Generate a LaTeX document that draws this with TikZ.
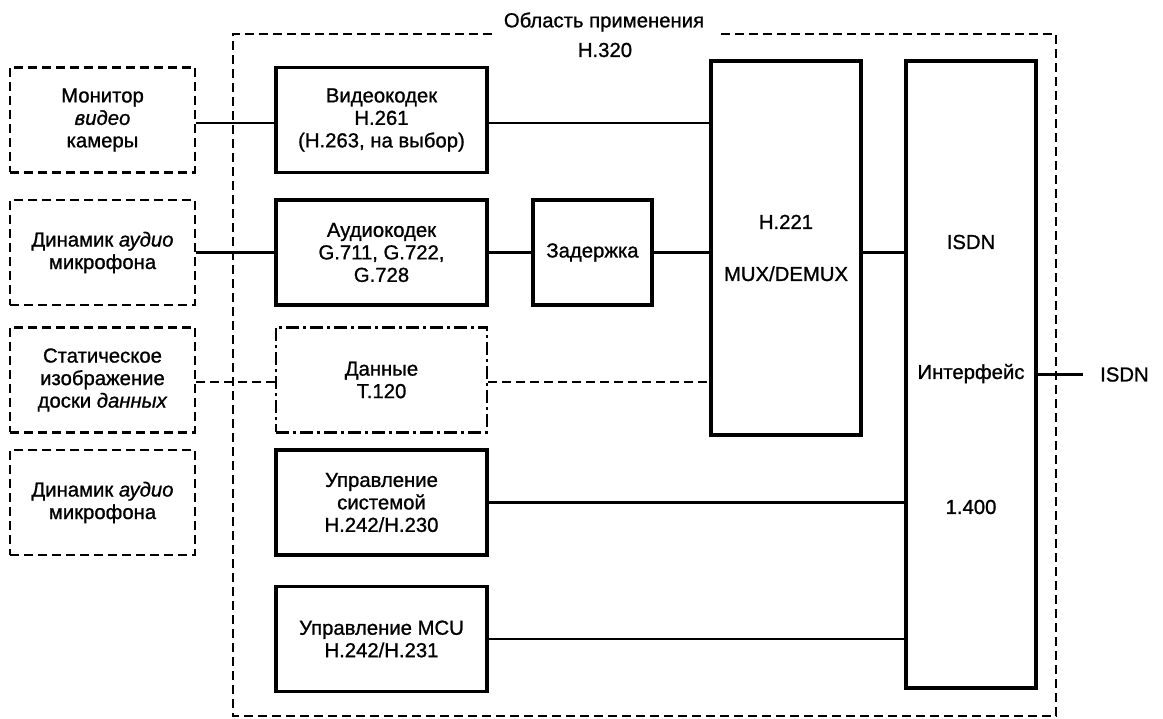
\documentclass[tikz,border=0pt]{standalone}
\usepackage{fontspec}
\setmainfont{Liberation Sans}[FakeBold=1]
\begin{document}
\begin{tikzpicture}[x=1pt,y=-1pt,
  every node/.style={font=\fontsize{20.3}{22.5}\selectfont, align=center, inner sep=0pt},
  blk/.style={draw, line width=3.2pt, minimum width=#1, minimum height=105pt},
  ext/.style={draw, line width=2.6pt, dash pattern=on 9pt off 5pt, minimum width=185pt, minimum height=105pt},
  dd/.style={draw, line width=2.6pt, dash pattern=on 13pt off 4pt on 3pt off 4pt, minimum width=211pt, minimum height=105pt},
  conn/.style={line width=2.8pt},
  dconn/.style={line width=2.8pt, dash pattern=on 9pt off 5pt},
  frame/.style={line width=2.6pt, dash pattern=on 9pt off 5pt}
]
\useasboundingbox (0,0) rectangle (1163,719);

% outer frame
\draw[frame] (492,34) -- (233,34) -- (233,716) -- (1056,716) -- (1056,34) -- (717,34);
\node (t1) at (604,22) {Область применения};
\node (t2) at (605,50) {H.320};

% external devices
\node[ext] (b1) at (102.5,120) {Монитор\\\textit{видео}\\камеры};
\node[ext] (b2) at (102.5,252.5) {Динамик \textit{аудио}\\микрофона};
\node[ext] (b3) at (102.5,380) {Статическое\\изображение\\доски \textit{данных}};
\node[ext] (b4) at (102.5,502.5) {Динамик \textit{аудио}\\микрофона};

% codecs
\node[blk=211pt] (vid) at (381.5,120) {Видеокодек\\H.261\\(H.263, на выбор)};
\node[blk=211pt] (aud) at (381.5,252.5) {Аудиокодек\\G.711, G.722,\\G.728};
\node[dd] (dat) at (381.5,380) {Данные\\T.120};
\node[blk=211pt] (upr) at (381.5,502.5) {Управление\\системой\\H.242/H.230};
\node[blk=211pt] (mcu) at (381.5,639) {Управление MCU\\H.242/H.231};
\node[blk=119pt] (del) at (592.5,252.5) {Задержка};
\node[blk=150pt, minimum height=374pt] (mux) at (786,248) {H.221\\[29.5pt]MUX/DEMUX};
\node[blk=130pt, minimum height=627pt] (isdn) at (971,374.5) {ISDN\\[107.5pt]Интерфейс\\[112.5pt]1.400};

\coordinate (out) at (1083,374.5);
\node[anchor=west] (isdnlbl) at (1100,374.5) {ISDN};

% connectors
\path ([yshift=-3pt]b1.east) coordinate (v0) ([yshift=-3pt]vid.east) coordinate (v1);
\draw[conn] (v0) -- (v0 -| vid.west);
\draw[conn] (v1) -- (v1 -| mux.west);
\draw[conn] (b2.east) -- (aud.west);
\draw[conn] (aud.east) -- (del.west);
\draw[conn] (del.east) -- (del.east -| mux.west);
\draw[conn] (del.east -| mux.east) -- (del.east -| isdn.west);
\path ([yshift=-2pt]b3.east) coordinate (d0) ([yshift=-2pt]dat.east) coordinate (d1);
\draw[dconn] (d0) -- (d0 -| dat.west);
\draw[dconn] (d1) -- (d1 -| mux.west);
\draw[conn] (upr.east) -- (upr.east -| isdn.west);
\draw[conn] (mcu.east) -- (mcu.east -| isdn.west);
\draw[conn] (isdn.east) -- (out);
\end{tikzpicture}
\end{document}
